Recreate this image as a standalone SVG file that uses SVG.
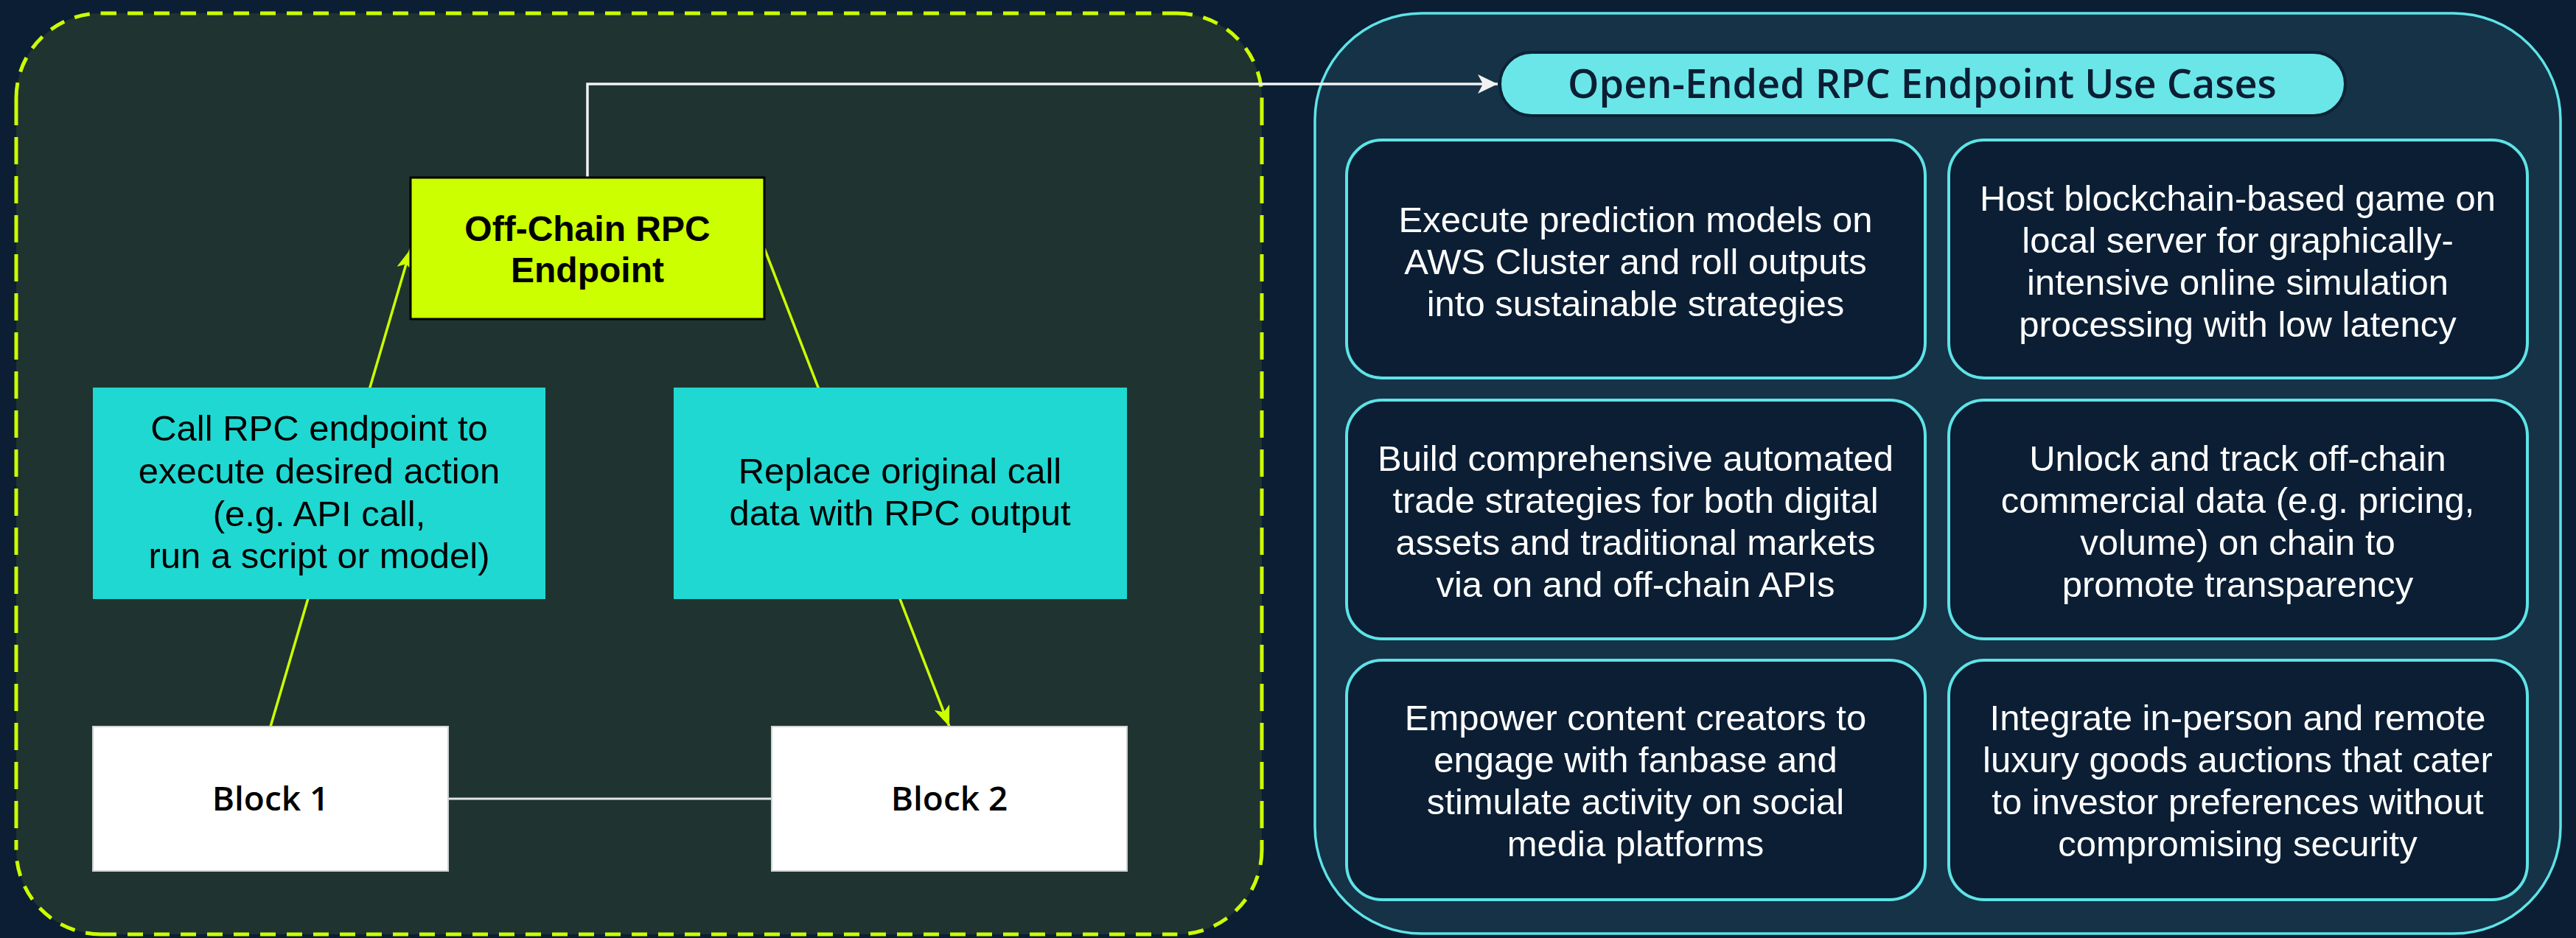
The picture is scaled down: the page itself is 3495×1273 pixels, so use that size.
<svg xmlns="http://www.w3.org/2000/svg" width="3495" height="1273" viewBox="0 0 3495 1273">
  <style>
    .bg { fill: #0b1e34; }
    .panel-left { fill: #1f3430; }
    .dash { fill: none; stroke: #ccff00; stroke-width: 5; }
    .dash-h { stroke-dasharray: 21 15; }
    .dash-v { stroke-dasharray: 37 16; }
    .panel-right { fill: #153247; stroke: #5ee3e6; stroke-width: 3.5; }
    .pill { fill: #6ae6e8; stroke: #0d2236; stroke-width: 4; }
    .card { fill: #0b1e34; stroke: #5ee3e6; stroke-width: 4; }
    .label-box { fill: #1fd8d2; }
    .block { fill: #ffffff; stroke: #cfd3d3; stroke-width: 2; }
    .rpc { fill: #ccff00; stroke: #000000; stroke-width: 3; }
    .wire-y { fill: none; stroke: #ccff00; stroke-width: 3.5; }
    .wire-w { fill: none; stroke: #f2f2f2; stroke-width: 3.5; }
    text { font-family: "Liberation Sans", Arial, sans-serif; text-anchor: middle; }
    .t-card { fill: #ffffff; font-size: 49px; font-weight: 400; }
    .t-label { fill: #000000; font-size: 49px; font-weight: 400; }
    .t-bold { fill: #000000; font-size: 48px; font-weight: 700; }
    .t-block { fill: #000000; font-family: "Open Sans", "Liberation Sans", sans-serif; font-size: 46px; font-weight: 600; }
    .t-title { fill: #0b1e34; font-family: "Open Sans", "Liberation Sans", sans-serif; font-size: 54px; font-weight: 600; }
  </style>
  <defs>
    <marker id="arrow-y" markerUnits="userSpaceOnUse" markerWidth="30" markerHeight="24" refX="28" refY="11" orient="auto">
      <path d="M0,0 L28,11 L0,22 L7,11 z" fill="#ccff00"/>
    </marker>
    <marker id="arrow-w" markerUnits="userSpaceOnUse" markerWidth="30" markerHeight="28" refX="27" refY="13" orient="auto">
      <path d="M0,0 L27,13 L0,26 L7,13 z" fill="#f2f2f2"/>
    </marker>
  </defs>

  <rect class="bg" x="0" y="0" width="3495" height="1273"/>

  <!-- left panel: on-chain flow, dashed outline -->
  <g id="flow-panel">
    <rect class="panel-left" x="22" y="18" width="1690" height="1250" rx="115" ry="115"/>
    <path class="dash dash-h" d="M137,18 H1597"/>
    <path class="dash dash-h" d="M137,1268 H1597"/>
    <path class="dash dash-v" d="M22,133 V1153"/>
    <path class="dash dash-v" d="M1712,133 V1153"/>
    <path class="dash dash-h" d="M22,133 A115,115 0 0 1 137,18"/>
    <path class="dash dash-h" d="M1597,18 A115,115 0 0 1 1712,133"/>
    <path class="dash dash-h" d="M1712,1153 A115,115 0 0 1 1597,1268"/>
    <path class="dash dash-h" d="M137,1268 A115,115 0 0 1 22,1153"/>
  </g>

  <!-- right panel: use cases -->
  <g id="use-case-panel">
    <rect class="panel-right" x="1784" y="18" width="1690" height="1249" rx="145" ry="145"/>
  </g>

  <!-- connectors -->
  <g id="connectors">
    <path class="wire-w" d="M797,241 V114 H2032" marker-end="url(#arrow-w)"/>
    <path class="wire-y" d="M367,986 L557,338" marker-end="url(#arrow-y)"/>
    <path class="wire-y" d="M1037,337 L1288,986" marker-end="url(#arrow-y)"/>
    <path class="wire-w" d="M608,1084 H1047" style="stroke:#e4e6e6;stroke-width:3"/>
  </g>

  <g id="rpc-endpoint">
    <rect class="rpc" x="557" y="241" width="480" height="192"/>
    <text class="t-bold" x="797" y="327">Off-Chain RPC</text>
    <text class="t-bold" x="797" y="383">Endpoint</text>
  </g>

  <g id="call-rpc">
    <rect class="label-box" x="126" y="526" width="614" height="287"/>
    <text class="t-label" x="433" y="598">Call RPC endpoint to</text>
    <text class="t-label" x="433" y="656">execute desired action</text>
    <text class="t-label" x="433" y="714">(e.g. API call,</text>
    <text class="t-label" x="433" y="771">run a script or model)</text>
  </g>

  <g id="replace-data">
    <rect class="label-box" x="914" y="526" width="615" height="287"/>
    <text class="t-label" x="1221" y="656">Replace original call</text>
    <text class="t-label" x="1221" y="713">data with RPC output</text>
  </g>

  <g id="block-1">
    <rect class="block" x="126" y="986" width="482" height="196"/>
    <text class="t-block" x="367" y="1100">Block 1</text>
  </g>

  <g id="block-2">
    <rect class="block" x="1047" y="986" width="482" height="196"/>
    <text class="t-block" x="1288" y="1100">Block 2</text>
  </g>

  <g id="use-case-title">
    <rect class="pill" x="2035" y="71" width="1147" height="86" rx="43" ry="43"/>
    <text class="t-title" x="2608" y="133">Open-Ended RPC Endpoint Use Cases</text>
  </g>

  <g id="case-prediction">
    <rect class="card" x="1827" y="190" width="785" height="323" rx="48" ry="48"/>
    <text class="t-card" x="2219" y="315">Execute prediction models on</text>
    <text class="t-card" x="2219" y="372">AWS Cluster and roll outputs</text>
    <text class="t-card" x="2219" y="429">into sustainable strategies</text>
  </g>

  <g id="case-game">
    <rect class="card" x="2644" y="190" width="785" height="323" rx="48" ry="48"/>
    <text class="t-card" x="3036" y="286">Host blockchain-based game on</text>
    <text class="t-card" x="3036" y="343">local server for graphically-</text>
    <text class="t-card" x="3036" y="400">intensive online simulation</text>
    <text class="t-card" x="3036" y="457">processing with low latency</text>
  </g>

  <g id="case-trading">
    <rect class="card" x="1827" y="543" width="785" height="324" rx="48" ry="48"/>
    <text class="t-card" x="2219" y="639">Build comprehensive automated</text>
    <text class="t-card" x="2219" y="696">trade strategies for both digital</text>
    <text class="t-card" x="2219" y="753">assets and traditional markets</text>
    <text class="t-card" x="2219" y="810">via on and off-chain APIs</text>
  </g>

  <g id="case-commercial-data">
    <rect class="card" x="2644" y="543" width="785" height="324" rx="48" ry="48"/>
    <text class="t-card" x="3036" y="639">Unlock and track off-chain</text>
    <text class="t-card" x="3036" y="696">commercial data (e.g. pricing,</text>
    <text class="t-card" x="3036" y="753">volume) on chain to</text>
    <text class="t-card" x="3036" y="810">promote transparency</text>
  </g>

  <g id="case-creators">
    <rect class="card" x="1827" y="896" width="785" height="325" rx="48" ry="48"/>
    <text class="t-card" x="2219" y="991">Empower content creators to</text>
    <text class="t-card" x="2219" y="1048">engage with fanbase and</text>
    <text class="t-card" x="2219" y="1105">stimulate activity on social</text>
    <text class="t-card" x="2219" y="1162">media platforms</text>
  </g>

  <g id="case-auctions">
    <rect class="card" x="2644" y="896" width="785" height="325" rx="48" ry="48"/>
    <text class="t-card" x="3036" y="991">Integrate in-person and remote</text>
    <text class="t-card" x="3036" y="1048">luxury goods auctions that cater</text>
    <text class="t-card" x="3036" y="1105">to investor preferences without</text>
    <text class="t-card" x="3036" y="1162">compromising security</text>
  </g>
</svg>
